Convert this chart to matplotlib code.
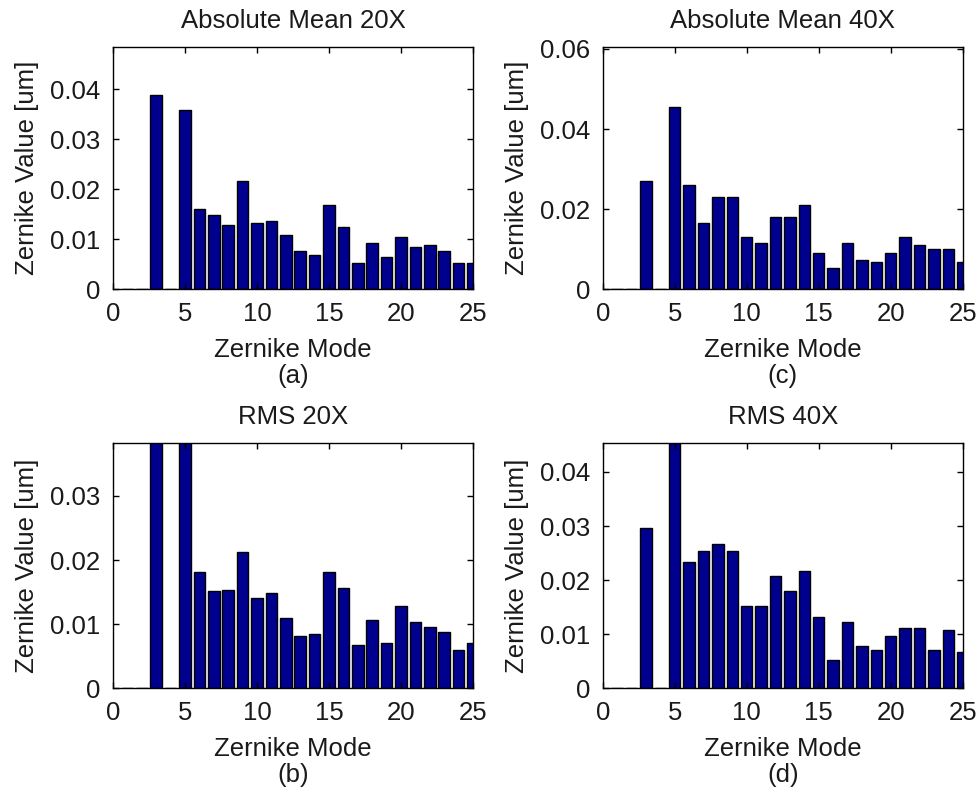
import numpy as np
import matplotlib.pyplot as plt
from matplotlib.ticker import FuncFormatter

plt.rcParams['font.family'] = ['Liberation Sans', 'DejaVu Sans']

modes = np.arange(1, 26)

# zernike values [um], modes 1..25 (1, 2, 4 removed)
absmean_20x = [0, 0, 0.0389, 0, 0.0358, 0.0161, 0.0149, 0.0129, 0.0217, 0.0133,
               0.0137, 0.0109, 0.0077, 0.0069, 0.0169, 0.0125, 0.0053, 0.0093,
               0.0065, 0.0105, 0.0085, 0.0089, 0.0077, 0.0053, 0.0053]
absmean_40x = [0, 0, 0.0271, 0, 0.0456, 0.0261, 0.0166, 0.0231, 0.0231, 0.0131,
               0.0116, 0.0181, 0.0181, 0.0211, 0.0091, 0.0052, 0.0116, 0.0072,
               0.0067, 0.0091, 0.0131, 0.0111, 0.0101, 0.0101, 0.0067]
rms_20x = [0, 0, 0.0450, 0, 0.0420, 0.0182, 0.0151, 0.0154, 0.0213, 0.0141,
           0.0148, 0.0110, 0.0082, 0.0085, 0.0182, 0.0157, 0.0067, 0.0107,
           0.0070, 0.0129, 0.0104, 0.0095, 0.0088, 0.0060, 0.0070]
rms_40x = [0, 0, 0.0297, 0, 0.0480, 0.0234, 0.0253, 0.0267, 0.0253, 0.0153,
           0.0153, 0.0208, 0.0179, 0.0216, 0.0131, 0.0053, 0.0123, 0.0079,
           0.0071, 0.0097, 0.0112, 0.0112, 0.0071, 0.0108, 0.0068]

W, H = 979, 796
fig = plt.figure(figsize=(W/100, H/100), dpi=100)

def px_axes(x0, y0, x1, y1):
    return fig.add_axes([x0/W, 1 - y1/H, (x1-x0)/W, (y1-y0)/H])

panels = [
    (absmean_20x, 'Absolute Mean 20X', '(a)', 0.0484, [0, 0.01, 0.02, 0.03, 0.04], (113, 47.3, 473, 289.3)),
    (absmean_40x, 'Absolute Mean 40X', '(c)', 0.0604, [0, 0.02, 0.04, 0.06], (602.7, 47.3, 962.7, 289.3)),
    (rms_20x, 'RMS 20X', '(b)', 0.0382, [0, 0.01, 0.02, 0.03], (113, 443.3, 473, 688.3)),
    (rms_40x, 'RMS 40X', '(d)', 0.0453, [0, 0.01, 0.02, 0.03, 0.04], (602.7, 443.3, 962.7, 688.3)),
]

fs = 18.5
txt = '#1a1a1a'
for vals, title, tag, ytop, yt, box in panels:
    ax = px_axes(*box)
    ax.bar(modes, vals, width=0.8, color='#00008f', edgecolor='black', linewidth=1)
    ax.set_xlim(0, 25)
    ax.set_ylim(0, ytop)
    ax.set_xticks([0, 5, 10, 15, 20, 25])
    ax.set_yticks(yt)
    ax.yaxis.set_major_formatter(FuncFormatter(lambda v, p: '%g' % v))
    ax.tick_params(direction='in', length=4, width=1, top=True, right=True,
                   labelsize=fs, labelcolor=txt, pad=9)
    for s in ax.spines.values():
        s.set_linewidth(1)
    ax.set_title(title, fontsize=fs, color=txt, pad=14)
    ax.set_xlabel('Zernike Mode\n' + tag, fontsize=fs, color=txt, linespacing=1.1, labelpad=9)
    ax.set_ylabel('Zernike Value [um]', fontsize=fs, color=txt, labelpad=8)

fig.savefig('out.png', dpi=100)
